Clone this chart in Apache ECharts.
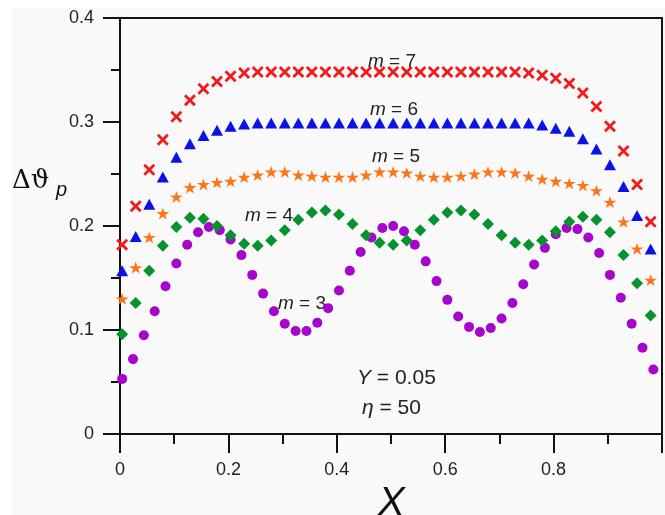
<!DOCTYPE html>
<html>
<head>
<meta charset="utf-8">
<script src="https://cdn.jsdelivr.net/npm/echarts@6/dist/echarts.min.js"></script>
<style>
html,body{margin:0;padding:0;background:#ffffff;}
#c{width:665px;height:515px;}
</style>
</head>
<body>
<div id="c"></div>
<script>
// X positions (step 0.025 for m = 4..7, step 0.02 for m = 3)
var xs25 = [0.004,0.029,0.054,0.079,0.104,0.129,0.154,0.179,0.204,0.229,0.254,0.279,0.304,0.329,0.354,0.379,0.404,0.429,0.454,0.479,0.504,0.529,0.554,0.579,0.604,0.629,0.654,0.679,0.704,0.729,0.754,0.779,0.804,0.829,0.854,0.879,0.904,0.929,0.954,0.979];
var xs20 = [0.004,0.024,0.044,0.064,0.084,0.104,0.124,0.144,0.164,0.184,0.204,0.224,0.244,0.264,0.284,0.304,0.324,0.344,0.364,0.384,0.404,0.424,0.444,0.464,0.484,0.504,0.524,0.544,0.564,0.584,0.604,0.624,0.644,0.664,0.684,0.704,0.724,0.744,0.764,0.784,0.804,0.824,0.844,0.864,0.884,0.904,0.924,0.944,0.964,0.984];

var m7 = [0.182,0.219,0.254,0.283,0.305,0.321,0.332,0.339,0.344,0.347,0.348,0.348,0.348,0.348,0.348,0.348,0.348,0.348,0.348,0.348,0.348,0.348,0.348,0.348,0.348,0.348,0.348,0.348,0.348,0.348,0.347,0.345,0.342,0.337,0.328,0.315,0.296,0.272,0.240,0.204];
var m6 = [0.157,0.190,0.221,0.247,0.266,0.279,0.287,0.292,0.296,0.298,0.299,0.299,0.299,0.299,0.299,0.299,0.299,0.299,0.299,0.299,0.299,0.299,0.299,0.299,0.299,0.299,0.299,0.299,0.299,0.299,0.299,0.297,0.294,0.291,0.284,0.274,0.259,0.238,0.210,0.178];
var m5 = [0.130,0.160,0.189,0.212,0.228,0.237,0.240,0.242,0.243,0.247,0.249,0.252,0.252,0.249,0.248,0.247,0.247,0.247,0.249,0.252,0.252,0.251,0.248,0.247,0.247,0.248,0.250,0.252,0.252,0.251,0.248,0.245,0.243,0.241,0.239,0.234,0.223,0.204,0.178,0.148];
var m4 = [0.096,0.126,0.157,0.181,0.199,0.208,0.207,0.200,0.191,0.183,0.181,0.186,0.196,0.206,0.213,0.215,0.211,0.202,0.191,0.184,0.182,0.186,0.196,0.206,0.213,0.215,0.211,0.202,0.191,0.184,0.182,0.186,0.195,0.204,0.209,0.206,0.194,0.172,0.145,0.114];
var m3 = [0.053,0.072,0.095,0.118,0.142,0.164,0.182,0.194,0.199,0.196,0.187,0.172,0.153,0.135,0.118,0.106,0.099,0.099,0.107,0.121,0.138,0.157,0.175,0.189,0.198,0.200,0.195,0.182,0.166,0.147,0.129,0.113,0.103,0.098,0.102,0.111,0.126,0.144,0.163,0.179,0.192,0.198,0.197,0.189,0.174,0.153,0.131,0.106,0.083,0.062];

var xTicks = [0, 0.2, 0.4, 0.6, 0.8];
var yTicks = [0, 0.1, 0.2, 0.3, 0.4];

function pairs(xs, ys) { return ys.map(function (v, i) { return [xs[i], v]; }); }

var crossPath = 'path://M0,2 L2,0 L6,4 L10,0 L12,2 L8,6 L12,10 L10,12 L6,8 L2,12 L0,10 L4,6 Z';
var starPath = 'path://M50,0 L61.17,34.63 L97.55,34.55 L68.07,55.87 L79.39,90.45 L50,69 L20.61,90.45 L31.93,55.87 L2.45,34.55 L38.83,34.63 Z';

var chart = echarts.init(document.getElementById('c'), null, {renderer: 'canvas'});
var axisFont = {fontSize: 18, color: '#222', fontFamily: 'Liberation Sans, Arial, sans-serif'};
var lineStyle = {color: '#111', width: 2};

chart.setOption({
  backgroundColor: '#ffffff',
  animation: false,
  grid: {left: 120, top: 18, width: 550, height: 416, show: true, borderColor: '#111', borderWidth: 2, backgroundColor: 'transparent'},
  xAxis: {
    type: 'value', min: 0, max: 1, interval: 0.2,
    axisLine: {show: true, onZero: false, lineStyle: lineStyle},
    axisTick: {show: true, inside: false, length: 19, lineStyle: lineStyle},
    minorTick: {show: true, splitNumber: 2, length: 10, lineStyle: lineStyle},
    splitLine: {show: false},
    axisLabel: Object.assign({margin: 27, formatter: function (v) { return xTicks.indexOf(+v.toFixed(2)) >= 0 ? String(+v.toFixed(2)) : ''; }}, axisFont)
  },
  yAxis: {
    type: 'value', min: 0, max: 0.4, interval: 0.1,
    axisLine: {show: true, onZero: false, lineStyle: lineStyle},
    axisTick: {show: true, inside: false, length: 17, lineStyle: lineStyle},
    minorTick: {show: true, splitNumber: 2, length: 9, lineStyle: lineStyle},
    splitLine: {show: false},
    axisLabel: Object.assign({margin: 26, formatter: function (v) { return yTicks.indexOf(+v.toFixed(2)) >= 0 ? String(+v.toFixed(2)) : ''; }}, axisFont)
  },
  graphic: [
    {type: 'rect', left: 12, top: 8, z: -100, silent: true, shape: {width: 653, height: 507}, style: {fill: '#f9f9f9'}},
    {type: 'text', left: 12, top: 168, style: {text: '\u0394\u03D1', font: '26px "DejaVu Serif", serif', fill: '#111'}},
    {type: 'text', left: 56, top: 180, style: {text: 'p', font: 'italic 20px "Liberation Sans", Arial, sans-serif', fill: '#111'}},
    {type: 'text', left: 378, top: 484, style: {text: 'X', font: 'italic 40px "Liberation Sans", Arial, sans-serif', fill: '#111'}},
    {type: 'text', left: 368, top: 52, style: {text: '{i|m} = 7', rich: {i: {fontStyle: 'italic', fontSize: 19, fontFamily: 'Liberation Sans'}}, font: '19px "Liberation Sans", Arial, sans-serif', fill: '#222'}},
    {type: 'text', left: 370, top: 100, style: {text: '{i|m} = 6', rich: {i: {fontStyle: 'italic', fontSize: 19, fontFamily: 'Liberation Sans'}}, font: '19px "Liberation Sans", Arial, sans-serif', fill: '#222'}},
    {type: 'text', left: 372, top: 147, style: {text: '{i|m} = 5', rich: {i: {fontStyle: 'italic', fontSize: 19, fontFamily: 'Liberation Sans'}}, font: '19px "Liberation Sans", Arial, sans-serif', fill: '#222'}},
    {type: 'text', left: 245, top: 206, style: {text: '{i|m} = 4', rich: {i: {fontStyle: 'italic', fontSize: 19, fontFamily: 'Liberation Sans'}}, font: '19px "Liberation Sans", Arial, sans-serif', fill: '#222'}},
    {type: 'text', left: 278, top: 294, style: {text: '{i|m} = 3', rich: {i: {fontStyle: 'italic', fontSize: 19, fontFamily: 'Liberation Sans'}}, font: '19px "Liberation Sans", Arial, sans-serif', fill: '#222'}},
    {type: 'text', left: 357, top: 368, style: {text: '{i|Y} = 0.05', rich: {i: {fontStyle: 'italic', fontSize: 21, fontFamily: 'Liberation Sans'}}, font: '21px "Liberation Sans", Arial, sans-serif', fill: '#222'}},
    {type: 'text', left: 362, top: 398, style: {text: '{i|\u03B7} = 50', rich: {i: {fontStyle: 'italic', fontSize: 21, fontFamily: 'Liberation Sans'}}, font: '21px "Liberation Sans", Arial, sans-serif', fill: '#222'}}
  ],
  series: [
    {name: 'm = 3', type: 'scatter', data: pairs(xs20, m3), symbol: 'circle', symbolSize: 10, itemStyle: {color: '#a805cc', opacity: 1}},
    {name: 'm = 4', type: 'scatter', data: pairs(xs25, m4), symbol: 'diamond', symbolSize: 12, itemStyle: {color: '#06932e', opacity: 1}},
    {name: 'm = 5', type: 'scatter', data: pairs(xs25, m5), symbol: starPath, symbolSize: [13, 12], itemStyle: {color: '#ff7417', opacity: 1}},
    {name: 'm = 6', type: 'scatter', data: pairs(xs25, m6), symbol: 'triangle', symbolSize: [12, 11], itemStyle: {color: '#0a12e6', opacity: 1}},
    {name: 'm = 7', type: 'scatter', data: pairs(xs25, m7), symbol: crossPath, symbolSize: 12, itemStyle: {color: '#f21a1a', opacity: 1}}
  ]
});
</script>
</body>
</html>
